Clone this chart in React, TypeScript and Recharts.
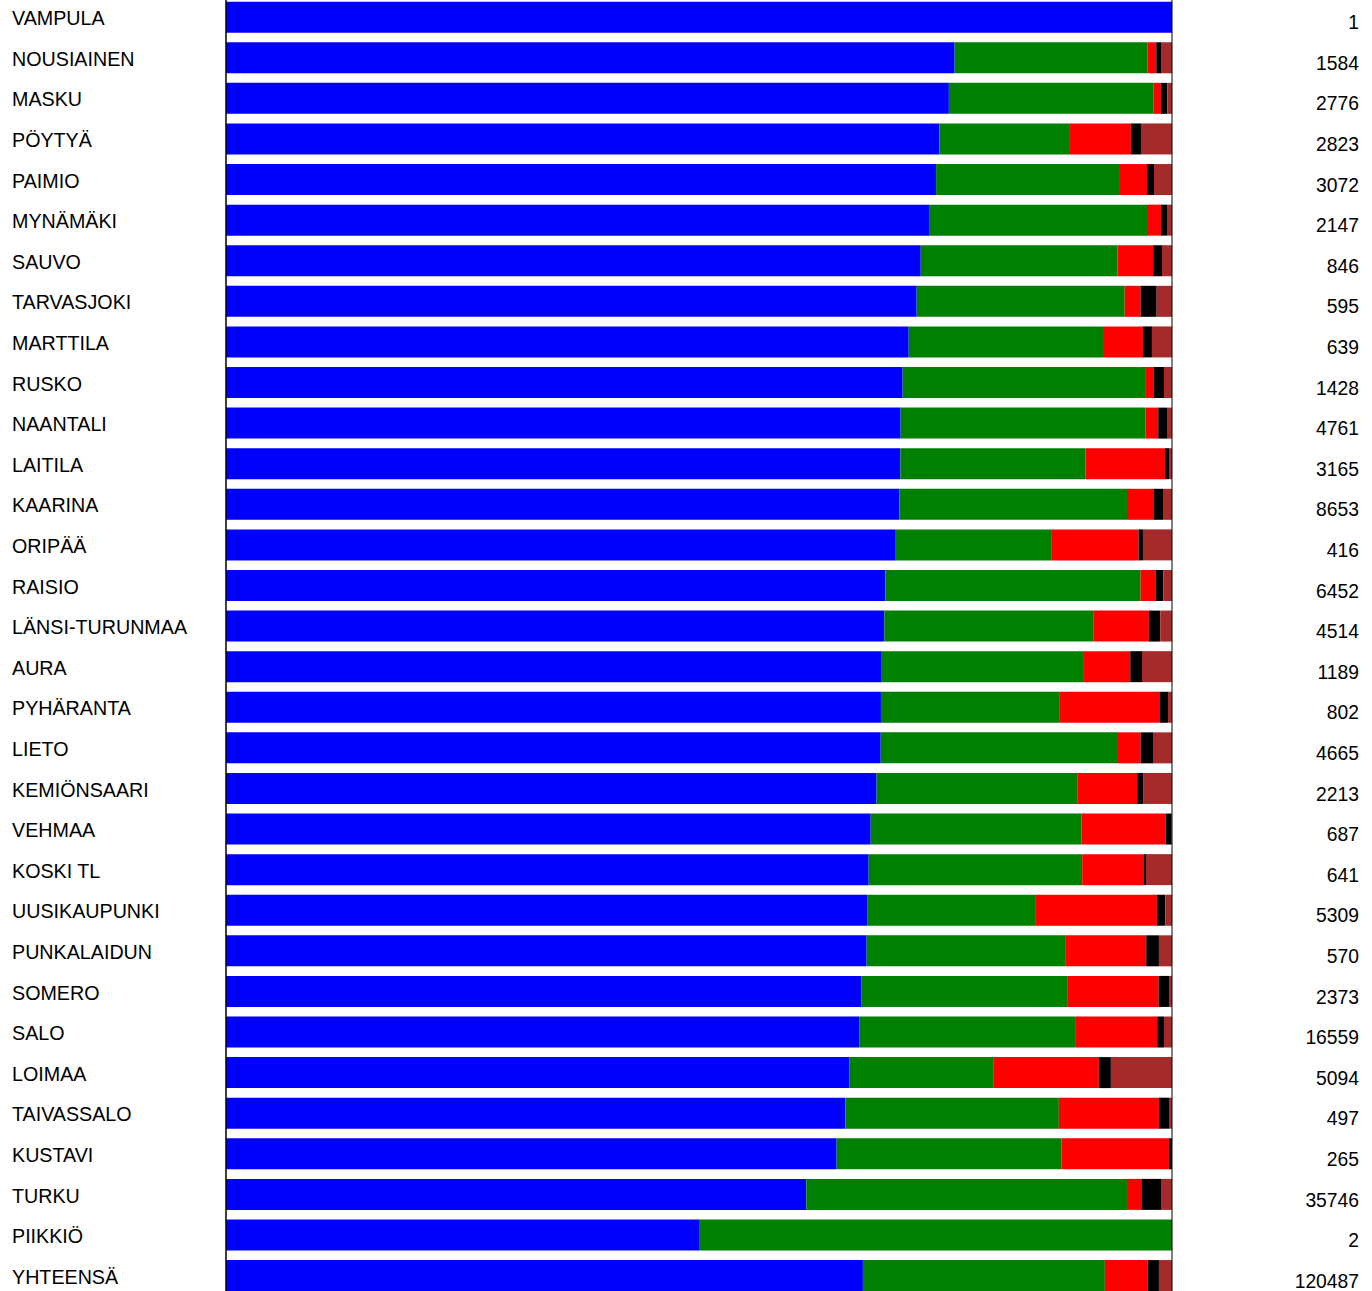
import React from "react";
import { BarChart, Bar, XAxis, YAxis } from "recharts";

const categories = [
  "VAMPULA", "NOUSIAINEN", "MASKU", "PÖYTYÄ", "PAIMIO", "MYNÄMÄKI", "SAUVO", "TARVASJOKI",
  "MARTTILA", "RUSKO", "NAANTALI", "LAITILA", "KAARINA", "ORIPÄÄ", "RAISIO", "LÄNSI-TURUNMAA",
  "AURA", "PYHÄRANTA", "LIETO", "KEMIÖNSAARI", "VEHMAA", "KOSKI TL", "UUSIKAUPUNKI", "PUNKALAIDUN",
  "SOMERO", "SALO", "LOIMAA", "TAIVASSALO", "KUSTAVI", "TURKU", "PIIKKIÖ", "YHTEENSÄ",
];

const totals = [
  1, 1584, 2776, 2823, 3072, 2147, 846, 595,
  639, 1428, 4761, 3165, 8653, 416, 6452, 4514,
  1189, 802, 4665, 2213, 687, 641, 5309, 570,
  2373, 16559, 5094, 497, 265, 35746, 2, 120487,
];

const seriesBlue = [
  100, 77.0, 76.4, 75.4, 75.06, 74.4, 73.44, 73.0,
  72.17, 71.53, 71.32, 71.29, 71.18, 70.72, 69.7, 69.6,
  69.24, 69.24, 69.21, 68.78, 68.15, 67.94, 67.83, 67.72,
  67.2, 66.98, 65.93, 65.47, 64.55, 61.34, 50, 67.34,
];
const seriesGreen = [
  0, 20.4, 21.6, 13.8, 19.44, 23.07, 20.81, 21.98,
  20.53, 25.71, 25.89, 19.58, 24.16, 16.58, 26.98, 22.08,
  21.45, 18.84, 25.08, 21.27, 22.3, 22.57, 17.7, 21.06,
  21.8, 22.86, 15.24, 22.57, 23.78, 33.9, 50, 25.58,
];
const seriesRed = [
  0, 0.91, 0.81, 6.45, 2.86, 1.38, 3.77, 1.69,
  4.23, 0.85, 1.34, 8.39, 2.75, 9.17, 1.62, 5.89,
  4.9, 10.66, 2.4, 6.28, 8.89, 6.53, 12.88, 8.5,
  9.6, 8.6, 11.11, 10.58, 11.35, 1.59, 0, 4.52,
];
const seriesBlack = [
  0, 0.57, 0.67, 1.06, 0.74, 0.63, 0.92, 1.69,
  0.95, 1.06, 0.92, 0.49, 0.95, 0.46, 0.78, 1.2,
  1.24, 0.85, 1.3, 0.68, 0.56, 0.21, 0.88, 1.34,
  1.09, 0.71, 1.27, 1.06, 0.32, 2.01, 0, 1.2,
];
const seriesBrown = [
  0, 1.09, 0.5, 3.28, 1.9, 0.53, 1.06, 1.62,
  2.12, 0.85, 0.53, 0.25, 0.95, 3.07, 0.92, 1.24,
  3.17, 0.42, 2.01, 3.0, 0.1, 2.75, 0.71, 1.38,
  0.32, 0.85, 6.46, 0.32, 0, 1.16, 0, 1.38,
];

const data = categories.map((name, i) => ({
  name,
  total: totals[i],
  s1: seriesBlue[i],
  s2: seriesGreen[i],
  s3: seriesRed[i],
  s4: seriesBlack[i],
  s5: seriesBrown[i],
}));

const FONT = "'Liberation Sans', Arial, Helvetica, sans-serif";

const LeftTick = (props: any) => (
  <text
    x={props.x - 214}
    y={props.y}
    dy={8}
    textAnchor="start"
    fontSize={19.7}
    fontFamily={FONT}
    fill="#000"
  >
    {props.payload.value}
  </text>
);

const RightTick = (props: any) => {
  const row = data.find((d) => d.name === props.payload.value);
  return (
    <text
      x={props.x}
      y={props.y}
      dy={12}
      textAnchor="end"
      fontSize={19.3}
      fontFamily={FONT}
      fill="#000"
    >
      {row ? row.total : ""}
    </text>
  );
};

export default function App() {
  return (
    <div
      style={{
        position: "absolute",
        left: 0,
        top: 0,
        width: 1372,
        height: 1291,
        overflow: "hidden",
        background: "#fff",
      }}
    >
      <div style={{ marginTop: -3 }}>
        <BarChart
          width={1372}
          height={1299}
          data={data}
          layout="vertical"
          stackOffset="expand"
          barCategoryGap="11.5%"
          margin={{ top: 0, right: 0, bottom: 0, left: 0 }}
        >
          <XAxis type="number" hide domain={[0, 1]} />
          <YAxis
            yAxisId="left"
            type="category"
            dataKey="name"
            orientation="left"
            width={226}
            tickLine={false}
            tickSize={0}
            tickMargin={0}
            axisLine={{ stroke: "#000", strokeWidth: 1.5 }}
            tick={<LeftTick />}
            interval={0}
          />
          <YAxis
            yAxisId="right"
            type="category"
            dataKey="name"
            orientation="right"
            width={200}
            tickLine={false}
            tickSize={0}
            tickMargin={187}
            axisLine={{ stroke: "#000", strokeWidth: 1 }}
            tick={<RightTick />}
            interval={0}
          />
          <Bar yAxisId="left" dataKey="s1" stackId="a" fill="#0000FF" isAnimationActive={false} />
          <Bar yAxisId="left" dataKey="s2" stackId="a" fill="#008000" isAnimationActive={false} />
          <Bar yAxisId="left" dataKey="s3" stackId="a" fill="#FF0000" isAnimationActive={false} />
          <Bar yAxisId="left" dataKey="s4" stackId="a" fill="#000000" isAnimationActive={false} />
          <Bar yAxisId="left" dataKey="s5" stackId="a" fill="#A52A2A" isAnimationActive={false} />
        </BarChart>
      </div>
    </div>
  );
}
